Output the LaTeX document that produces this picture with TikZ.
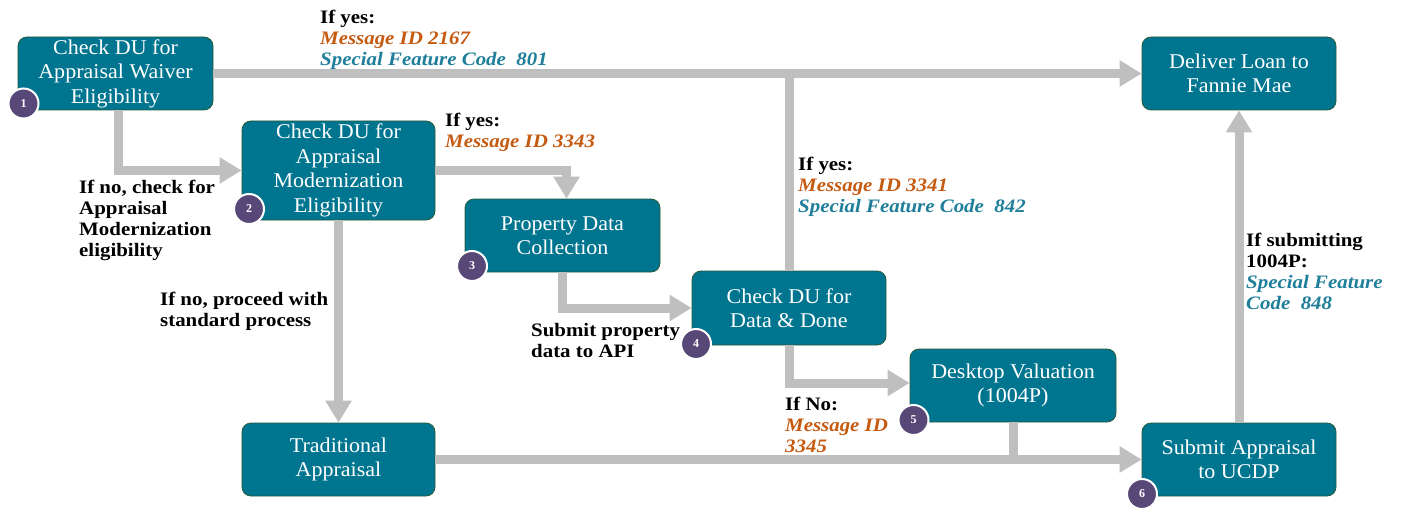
\documentclass[tikz,border=0pt]{standalone}
\usepackage{fontspec}
\setmainfont{Liberation Serif}
\newfontfamily\lblfont{Liberation Serif}[FakeStretch=1.1]
\newfontfamily\boxfont{Liberation Serif}[FakeStretch=1.05]
\usetikzlibrary{arrows.meta}
\definecolor{boxteal}{RGB}{0,117,143}
\definecolor{boxedge}{RGB}{40,90,60}
\definecolor{badgepurple}{RGB}{88,72,120}
\definecolor{orangetxt}{RGB}{197,90,17}
\definecolor{tealtxt}{RGB}{31,127,154}
\definecolor{arrowgray}{RGB}{191,191,191}
\newcommand{\orn}[1]{\textcolor{orangetxt}{\itshape #1}}
\newcommand{\tln}[1]{\textcolor{tealtxt}{\itshape #1}}
\begin{document}
\begin{tikzpicture}[x=1pt,y=-1pt,
  box/.style={draw=boxedge, line width=0.8pt, fill=boxteal, rounded corners=9pt,
    text=white, font=\boxfont\fontsize{21}{24.5}\selectfont, align=center,
    minimum width=195pt, minimum height=73pt, inner sep=0pt},
  badge/.style={circle, fill=badgepurple, draw=white, line width=2pt,
    minimum size=30pt, inner sep=0pt, text=white, font=\bfseries\fontsize{12}{12}\selectfont},
  conn/.style={draw=arrowgray, line width=9pt},
  arr/.style={conn, -{Triangle[length=22pt,width=25pt]}},
  lbl/.style={anchor=north west, align=left, inner sep=0pt,
    font=\lblfont\bfseries\fontsize{19}{21}\selectfont},
  ]
\useasboundingbox (0,0) rectangle (1405,508);
\fill[white] (0,0) rectangle (1405,508);

% boxes
\node[box] (b1) at (115.5,73.5) {Check DU for\\Appraisal Waiver\\Eligibility};
\node[box, minimum width=193pt, minimum height=99pt] (b2) at (338.5,170.5) {Check DU for\\Appraisal\\Modernization\\Eligibility};
\node[box] (b3) at (562.5,235.5) {Property Data\\Collection};
\node[box, minimum width=194pt, minimum height=74pt] (b4) at (789,308) {Check DU for\\Data \& Done};
\node[box, minimum width=206pt] (b5) at (1013,385.5) {Desktop Valuation\\(1004P)};
\node[box, minimum width=194pt] (b6) at (1239,459.5) {Submit Appraisal\\to UCDP};
\node[box, minimum width=194pt] (b7) at (1239,73.5) {Deliver Loan to\\Fannie Mae};
\node[box, minimum width=193pt] (b8) at (338.5,459.5) {Traditional\\Appraisal};

% connectors
\draw[arr] (b1.east) -- (b7.west);
\draw[conn] (b4.north) -- (b4.north |- b1.east);
\draw[arr] ([xshift=2.5pt]b1.south) |- (b2.west);
\draw[arr] (b2.east) -| ([xshift=4pt]b3.north);
\draw[arr] (b2.south) -- (b8.north);
\draw[arr] (b3.south) |- (b4.west);
\draw[arr] (b4.south) |- ([yshift=2.5pt]b5.west);
\draw[arr] (b8.east) -- (b6.west);
\draw[conn] (b5.south) -- (b5.south |- b6.west);
\draw[arr] (b6.north) -- (b7.south);

% badges
\node[badge] (n1) at (23.5,103.5) {1};
\node[badge] (n2) at (249,209) {2};
\node[badge] (n3) at (472,266) {3};
\node[badge] (n4) at (696,344) {4};
\node[badge] (n5) at (913.5,420) {5};
\node[badge] (n6) at (1142,494) {6};

% labels
\node[lbl] (l1) at (320,10) {If yes:\\\orn{Message ID 2167}\\\tln{Special Feature Code\ \ 801}};
\node[lbl] (l2) at (445,113) {If yes:\\\orn{Message ID 3343}};
\node[lbl] (l3) at (79,180) {If no, check for\\Appraisal\\Modernization\\eligibility};
\node[lbl] (l4) at (160,292) {If no, proceed with\\standard process};
\node[lbl] (l5) at (531,323) {Submit property\\data to API};
\node[lbl] (l6) at (798,157) {If yes:\\\orn{Message ID 3341}\\\tln{Special Feature Code\ \ 842}};
\node[lbl] (l7) at (785,397) {If No:\\\orn{Message ID}\\\orn{3345}};
\node[lbl] (l8) at (1246,233) {If submitting\\1004P:\\\tln{Special Feature}\\\tln{Code\ \ 848}};
\end{tikzpicture}
\end{document}
